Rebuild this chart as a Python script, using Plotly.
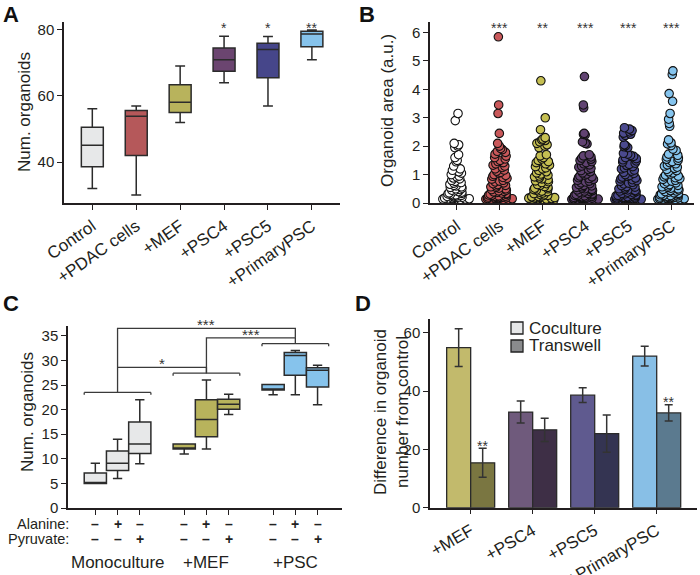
import plotly.graph_objects as go

W, H = 700, 575
FONT = "Arial, Liberation Sans, Helvetica, sans-serif"
AXC = "#231f20"
EDGE = "#2b2b2b"


def px(x):
    return x / W


def py(y):
    return 1 - y / H


# ---------------- Panel A data ----------------
a_cats = ["Control", "+PDAC cells", "+MEF", "+PSC4", "+PSC5", "+PrimaryPSC"]
a_low = [32, 30, 52, 64, 57, 71]
a_q1 = [38.6, 42, 55, 67.5, 65.5, 74.9]
a_med = [45.1, 53.9, 58.1, 71, 74.1, 78.8]
a_q3 = [50.5, 55.6, 63.4, 74.5, 76, 79.6]
a_high = [56.1, 57, 69.1, 78.1, 78, 80]
a_colors = ["#e7e8e9", "#b5585a", "#b8b35c", "#6b4570", "#46468a", "#86c3ec"]
a_sig = ["", "", "", "*", "*", "**"]

# ---------------- Panel B data ----------------
b_cats = a_cats
b_colors = ["#ffffff", "#c9585a", "#c5bf52", "#614372", "#4b4a8e", "#85c4ee"]
b_sig = ["", "***", "**", "***", "***", "***"]
b_control = [3.15, 2.9, 2.1, 2.05, 2.0, 1.95, 1.7, 1.6, 1.5, 1.45, 1.3, 1.2, 1.15, 1.1, 1.05, 1.0,
             0.95, 0.92, 0.88, 0.85, 0.8, 0.76, 0.72, 0.7, 0.66, 0.62, 0.6, 0.57, 0.55, 0.52, 0.5,
             0.47, 0.45, 0.43, 0.4, 0.38, 0.36, 0.34, 0.32, 0.3, 0.29, 0.27, 0.26, 0.25, 0.23, 0.22,
             0.21, 0.2, 0.19, 0.18, 0.17, 0.16, 0.15, 0.15, 0.14, 0.14, 0.13, 0.13, 0.12, 0.12, 0.12,
             0.11, 0.11, 0.11, 0.1, 0.1, 0.1, 0.1]
b_pdac = [5.85, 3.45, 3.15, 2.45, 2.1, 2.0, 1.92, 1.88, 1.82, 1.78, 1.72, 1.65, 1.6, 1.55, 1.5, 1.46,
          1.42, 1.38, 1.33, 1.3, 1.25, 1.2, 1.16, 1.12, 1.08, 1.05, 1.0, 0.97, 0.94, 0.9, 0.87, 0.84,
          0.8, 0.77, 0.74, 0.71, 0.68, 0.65, 0.62, 0.6, 0.57, 0.55, 0.52, 0.5, 0.47, 0.45, 0.43, 0.41,
          0.39, 0.37, 0.35, 0.33, 0.31, 0.3, 0.28, 0.27, 0.25, 0.24, 0.23, 0.22, 0.21, 0.2, 0.19, 0.18,
          0.17, 0.16, 0.16, 0.15, 0.15, 0.14, 0.14, 0.13, 0.13, 0.12, 0.12, 0.12, 0.11, 0.11, 0.11,
          0.1, 0.1, 0.1, 0.1, 0.1]
b_mef = [4.3, 3.0, 2.58, 2.3, 2.25, 2.22, 2.2, 2.15, 2.1, 2.05, 2.0, 1.95, 1.7, 1.66, 1.6, 1.55, 1.5,
         1.46, 1.42, 1.38, 1.33, 1.28, 1.24, 1.2, 1.15, 1.1, 1.06, 1.02, 0.98, 0.95, 0.92, 0.88, 0.85,
         0.82, 0.78, 0.75, 0.72, 0.68, 0.65, 0.62, 0.58, 0.55, 0.52, 0.5, 0.47, 0.45, 0.42, 0.4, 0.38,
         0.35, 0.33, 0.31, 0.29, 0.27, 0.25, 0.23, 0.22, 0.2, 0.19, 0.18, 0.17, 0.16, 0.15, 0.14, 0.14,
         0.13, 0.13, 0.12, 0.12, 0.11, 0.11, 0.1, 0.1, 0.1]
b_psc4 = [4.45, 3.45, 3.35, 2.45, 2.42, 2.4, 2.15, 2.1, 2.08, 1.7, 1.66, 1.62, 1.58, 1.54, 1.5, 1.46,
          1.42, 1.38, 1.34, 1.3, 1.26, 1.22, 1.18, 1.14, 1.1, 1.06, 1.02, 0.98, 0.95, 0.92, 0.89, 0.86,
          0.83, 0.8, 0.77, 0.74, 0.71, 0.68, 0.65, 0.62, 0.6, 0.57, 0.55, 0.52, 0.5, 0.48, 0.46, 0.44,
          0.42, 0.4, 0.38, 0.36, 0.34, 0.32, 0.3, 0.29, 0.27, 0.26, 0.25, 0.23, 0.22, 0.21, 0.2, 0.19,
          0.18, 0.17, 0.16, 0.16, 0.15, 0.15, 0.14, 0.14, 0.13, 0.13, 0.12, 0.12, 0.12, 0.11, 0.11,
          0.11, 0.1, 0.1, 0.1, 0.1, 0.1, 0.1]
b_psc5 = [2.65, 2.6, 2.55, 2.5, 2.46, 2.42, 2.38, 2.32, 2.05, 2.02, 1.98, 1.95, 1.75, 1.72, 1.68, 1.64,
          1.6, 1.56, 1.52, 1.48, 1.44, 1.4, 1.36, 1.32, 1.28, 1.24, 1.2, 1.16, 1.12, 1.08, 1.04, 1.0,
          0.97, 0.94, 0.91, 0.88, 0.85, 0.82, 0.79, 0.76, 0.73, 0.7, 0.67, 0.64, 0.61, 0.58, 0.56, 0.53,
          0.5, 0.48, 0.46, 0.44, 0.42, 0.4, 0.38, 0.36, 0.34, 0.32, 0.3, 0.29, 0.27, 0.26, 0.25, 0.24,
          0.22, 0.21, 0.2, 0.19, 0.18, 0.17, 0.16, 0.16, 0.15, 0.15, 0.14, 0.14, 0.13, 0.13, 0.13, 0.12,
          0.12, 0.12, 0.11, 0.11, 0.11, 0.1, 0.1, 0.1, 0.1, 0.1, 0.1, 0.1]
b_primary = [4.65, 4.52, 3.85, 3.58, 3.15, 2.95, 2.8, 2.7, 2.22, 2.12, 2.08, 2.02, 1.9, 1.85, 1.72,
             1.68, 1.62, 1.58, 1.54, 1.5, 1.46, 1.42, 1.38, 1.34, 1.3, 1.26, 1.22, 1.18, 1.14, 1.1, 1.06,
             1.02, 0.98, 0.95, 0.92, 0.89, 0.86, 0.83, 0.8, 0.77, 0.74, 0.71, 0.68, 0.65, 0.62, 0.6, 0.57,
             0.55, 0.52, 0.5, 0.48, 0.46, 0.44, 0.42, 0.4, 0.38, 0.36, 0.34, 0.32, 0.3, 0.29, 0.27, 0.26,
             0.25, 0.23, 0.22, 0.21, 0.2, 0.19, 0.18, 0.17, 0.16, 0.16, 0.15, 0.15, 0.14, 0.14, 0.13,
             0.13, 0.12, 0.12, 0.12, 0.11, 0.11, 0.11, 0.1, 0.1, 0.1, 0.1, 0.1]
b_values = [b_control, b_pdac, b_mef, b_psc4, b_psc5, b_primary]

# ---------------- Panel C data ----------------
c_groups = ["Monoculture", "+MEF", "+PSC"]
c_alanine = ["\u2013", "+", "\u2013"]
c_pyruvate = ["\u2013", "\u2013", "+"]
c_low = [5, 6, 9, 11, 12, 19, 23, 23, 21]
c_q1 = [5, 7.6, 11.1, 12, 14.5, 20.1, 24, 27, 24.6]
c_med = [5, 9.1, 13, 12, 18, 21.1, 24, 31, 28]
c_q3 = [7.1, 11.6, 17.5, 13, 22, 22.1, 25.1, 31.6, 28.5]
c_high = [9.1, 14, 22, 13, 26, 23.1, 25.1, 32, 29]
c_colors = ["#e7e8e9", "#b8b35c", "#86c3ec"]
c_bracket = [23.5, 27.4, 33.4]
# (from group, to group, top level, label)
c_compare = [(0, 1, 28.6, "*"), (1, 2, 34.6, "***"), (0, 2, 36.5, "***")]

# ---------------- Panel D data ----------------
d_cats = ["+MEF", "+PSC4", "+PSC5", "+PrimaryPSC"]
d_co = [54.9, 32.8, 38.6, 52.0]
d_co_err = [6.5, 3.8, 2.5, 3.4]
d_tw = [15.4, 26.7, 25.4, 32.5]
d_tw_err = [5.0, 4.0, 6.4, 2.8]
d_co_colors = ["#c2ba6c", "#6f5a7c", "#5f5a8f", "#88bfe6"]
d_tw_colors = ["#7a7641", "#3e2f46", "#343452", "#5b7a8f"]
d_tw_sig = ["**", "", "", "**"]
d_legend = [("Coculture", "#e6e7e8"), ("Transwell", "#8a8b8d")]

fig = go.Figure()

# Panel A boxes
for i, c in enumerate(a_cats):
    fig.add_trace(go.Box(
        x=[c], q1=[a_q1[i]], median=[a_med[i]], q3=[a_q3[i]],
        lowerfence=[a_low[i]], upperfence=[a_high[i]],
        fillcolor=a_colors[i], line=dict(color=EDGE, width=1.5),
        width=0.5, whiskerwidth=0.45, boxpoints=False,
        xaxis="x", yaxis="y", showlegend=False, name=c))

# Panel B strip plots
for i, c in enumerate(b_cats):
    vals = b_values[i]
    fig.add_trace(go.Box(
        x=[c] * len(vals), y=vals, boxpoints="all", jitter=1, pointpos=0,
        fillcolor="rgba(0,0,0,0)", line=dict(color="rgba(0,0,0,0)", width=0),
        width=0.66,
        marker=dict(color=b_colors[i], size=8.5, opacity=1,
                    line=dict(color="#111111", width=1.1)),
        xaxis="x2", yaxis="y2", showlegend=False, name=c))

# Panel C boxes
for g in range(3):
    for k in range(3):
        j = g * 3 + k
        fig.add_trace(go.Box(
            x=[g * 4 + k], q1=[c_q1[j]], median=[c_med[j]], q3=[c_q3[j]],
            lowerfence=[c_low[j]], upperfence=[c_high[j]],
            fillcolor=c_colors[g], line=dict(color=EDGE, width=1.5),
            width=1.0, whiskerwidth=0.42, boxpoints=False,
            xaxis="x3", yaxis="y3", showlegend=False))

# Panel D bars
fig.add_trace(go.Bar(
    x=d_cats, y=d_co, name="Coculture",
    marker=dict(color=d_co_colors, line=dict(color=EDGE, width=1.3)),
    error_y=dict(type="data", array=d_co_err, color="#333333", thickness=1.5, width=4),
    xaxis="x4", yaxis="y4", showlegend=False))
fig.add_trace(go.Bar(
    x=d_cats, y=d_tw, name="Transwell",
    marker=dict(color=d_tw_colors, line=dict(color=EDGE, width=1.3)),
    error_y=dict(type="data", array=d_tw_err, color="#333333", thickness=1.5, width=4),
    xaxis="x4", yaxis="y4", showlegend=False))

ann = []
shapes = []

# Panel letters
for letter, x, y in [("A", 11, 15), ("B", 367, 15), ("C", 11, 303), ("D", 363, 303)]:
    ann.append(dict(text="<b>%s</b>" % letter, x=px(x), y=py(y), xref="paper", yref="paper",
                    xanchor="center", yanchor="middle", showarrow=False,
                    font=dict(size=22, color="#111111", family=FONT)))

# Axis titles
for text, x, y in [("Num. organoids", 25, 112), ("Organoid area (a.u.)", 388, 111),
                   ("Num. organoids", 27, 412),
                   ("Difference in organoid<br>number from control", 391, 412)]:
    ann.append(dict(text=text, x=px(x), y=py(y), xref="paper", yref="paper",
                    xanchor="center", yanchor="middle", showarrow=False, textangle=-90,
                    font=dict(size=17, color="#231f20", family=FONT)))

# Significance A and B
for i, s in enumerate(a_sig):
    if s:
        ann.append(dict(text=s, x=a_cats[i], y=py(28), xref="x", yref="paper",
                        xanchor="center", yanchor="middle",
                        showarrow=False, font=dict(size=14, color="#333333")))
for i, s in enumerate(b_sig):
    if s:
        ann.append(dict(text=s, x=b_cats[i], y=py(28), xref="x2", yref="paper",
                        xanchor="center", yanchor="middle",
                        showarrow=False, font=dict(size=14, color="#333333")))

# Panel C brackets
LC = "#3a3a3a"
for g in range(3):
    lv = c_bracket[g]
    x0, x1 = g * 4 - 0.5, g * 4 + 2.5
    shapes.append(dict(type="line", xref="x3", yref="y3", x0=x0, x1=x1, y0=lv, y1=lv,
                       line=dict(color=LC, width=1.3)))
    for xe in (x0, x1):
        shapes.append(dict(type="line", xref="x3", yref="y3", x0=xe, x1=xe, y0=lv, y1=lv - 0.5,
                           line=dict(color=LC, width=1.3)))
for ga, gb, top, lab in c_compare:
    xa, xb = ga * 4 + 1, gb * 4 + 1
    if (ga, gb) == (0, 2):
        ya, yb = c_compare[0][2], c_compare[1][2]
    else:
        ya, yb = c_bracket[ga], c_bracket[gb]
    shapes.append(dict(type="path", xref="x3", yref="y3",
                       path="M %s,%s L %s,%s L %s,%s L %s,%s" % (xa, ya, xa, top, xb, top, xb, yb),
                       line=dict(color=LC, width=1.3)))
    ann.append(dict(text=lab, x=(xa + xb) / 2, y=top - 1.4, xref="x3", yref="y3",
                    xanchor="center", yanchor="bottom", showarrow=False,
                    font=dict(size=15, color="#333333")))

# Panel C treatment rows
for g in range(3):
    for k in range(3):
        pos = g * 4 + k
        for sign, yy in ((c_alanine[k], 524), (c_pyruvate[k], 539)):
            ann.append(dict(text="<b>%s</b>" % sign, x=pos, y=py(yy), xref="x3", yref="paper",
                            showarrow=False, xanchor="center", yanchor="middle",
                            font=dict(size=14, color="#222222")))
    ann.append(dict(text=c_groups[g], x=g * 4 + 1, y=py(562), xref="x3", yref="paper",
                    showarrow=False, xanchor="center", yanchor="middle",
                    font=dict(size=17, color="#231f20")))
for lab, yy in (("Alanine:", 524), ("Pyruvate:", 539)):
    ann.append(dict(text=lab, x=px(71), y=py(yy), xref="paper", yref="paper",
                    xanchor="right", yanchor="middle", showarrow=False,
                    font=dict(size=14.5, color="#231f20")))

# Panel D significance
for i, s in enumerate(d_tw_sig):
    if s:
        ann.append(dict(text=s, x=i + 0.195, y=d_tw[i] + d_tw_err[i] - 2.6, xref="x4", yref="y4",
                        xanchor="center", yanchor="bottom", showarrow=False,
                        font=dict(size=14, color="#333333")))

# Panel D legend
for j, (name, col) in enumerate(d_legend):
    yc = 328 + j * 18
    shapes.append(dict(type="rect", xref="paper", yref="paper",
                       x0=px(511), x1=px(523), y0=py(yc + 6), y1=py(yc - 6),
                       fillcolor=col, line=dict(color="#222222", width=1.3)))
    ann.append(dict(text=name, x=px(527), y=py(yc), xref="paper", yref="paper",
                    xanchor="left", yanchor="middle", showarrow=False,
                    font=dict(size=17, color="#231f20")))

axis_common = dict(showline=True, linecolor=AXC, linewidth=1.5, ticks="outside", ticklen=5,
                   tickwidth=1.3, tickcolor=AXC, showgrid=False, zeroline=False, automargin=False,
                   tickfont=dict(size=15, color="#231f20", family=FONT), fixedrange=True)
xtick_font = dict(size=17, color="#231f20", family=FONT)

fig.update_layout(
    width=W, height=H, margin=dict(l=0, r=0, t=0, b=0, pad=0, autoexpand=False),
    paper_bgcolor="white", plot_bgcolor="white",
    font=dict(family=FONT, color="#231f20"),
    boxmode="overlay", barmode="group", bargap=0.226, bargroupgap=0,
    showlegend=False,
    xaxis=dict(domain=[px(64), px(340)], anchor="y", type="category", range=[-0.645, 5.64],
               tickangle=-35, **{**axis_common, "tickfont": xtick_font}),
    yaxis=dict(domain=[py(203), py(22)], anchor="x", range=[27.6, 82.4], tickvals=[40, 60, 80],
               **axis_common),
    xaxis2=dict(domain=[px(430), px(694)], anchor="y2", type="category", range=[-0.62, 5.52],
                tickangle=-35, **{**axis_common, "tickfont": xtick_font}),
    yaxis2=dict(domain=[py(203), py(22)], anchor="x2", range=[0, 6.37], dtick=1, **axis_common),
    xaxis3=dict(domain=[px(68), px(342)], anchor="y3", range=[-1.23, 11.1],
                tickvals=[g * 4 + k for g in range(3) for k in range(3)],
                showticklabels=False, **axis_common),
    yaxis3=dict(domain=[py(508), py(326)], anchor="x3", range=[0, 37], dtick=5, **axis_common),
    xaxis4=dict(domain=[px(430), px(697)], anchor="y4", type="category", range=[-0.656, 3.65],
                tickangle=-30, **{**axis_common, "tickfont": xtick_font}),
    yaxis4=dict(domain=[py(507.7), py(319.3)], anchor="x4", range=[0, 64.6],
                tickvals=[0, 20, 40, 60], **axis_common),
    annotations=ann, shapes=shapes,
)

fig.write_html("out.html", config={"displayModeBar": False},
               post_script="document.body.style.margin='0px';document.body.style.overflow='hidden';")
